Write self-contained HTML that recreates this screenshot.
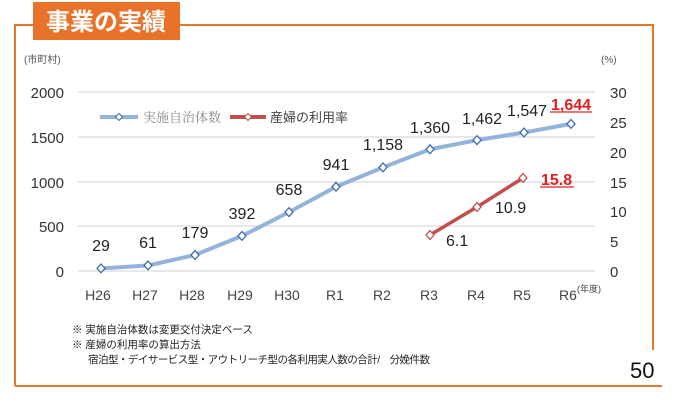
<!DOCTYPE html>
<html><head><meta charset="utf-8"><style>
body{margin:0;background:#fff;width:680px;height:413px;overflow:hidden}
svg{display:block;font-family:"Liberation Sans","Noto Sans CJK JP",sans-serif}
</style></head><body>
<svg width="680" height="413" viewBox="0 0 680 413">
<path d="M15,386 L15,25 L653,25 L653,350" fill="none" stroke="#e8772e" stroke-width="2"/>
<path d="M15,386 L662,386" stroke="#e8772e" stroke-width="2"/>
<rect x="33" y="2" width="147" height="38" fill="#e8722a"/>
<text x="106" y="30" text-anchor="middle" font-size="24" font-weight="bold" fill="#fff">事業の実績</text>
<text x="24" y="63" font-size="10" fill="#555">(市町村)</text>
<text x="601" y="63" font-size="10" fill="#555">(%)</text>
<g stroke="#d9d9d9" stroke-width="1.3">
<line x1="78" y1="92" x2="595" y2="92"/><line x1="78" y1="137" x2="595" y2="137"/>
<line x1="78" y1="182" x2="595" y2="182"/><line x1="78" y1="226" x2="595" y2="226"/>
<line x1="78" y1="271" x2="595" y2="271"/></g>
<g font-size="15" fill="#333" text-anchor="end">
<text x="64" y="98">2000</text><text x="64" y="143">1500</text><text x="64" y="188">1000</text><text x="64" y="232">500</text><text x="64" y="277">0</text></g>
<g font-size="15" fill="#333">
<text x="610" y="98">30</text><text x="610" y="128">25</text><text x="610" y="158">20</text><text x="610" y="188">15</text><text x="610" y="217">10</text><text x="610" y="247">5</text><text x="610" y="277">0</text></g>
<g font-size="14" fill="#444" text-anchor="middle">
<text x="98" y="300">H26</text><text x="145" y="300">H27</text><text x="192" y="300">H28</text><text x="240" y="300">H29</text><text x="287" y="300">H30</text><text x="335" y="300">R1</text><text x="382" y="300">R2</text><text x="429" y="300">R3</text><text x="476" y="300">R4</text><text x="522" y="300">R5</text><text x="568" y="300">R6</text></g>
<text x="577" y="292" font-size="9" fill="#444">(年度)</text>
<polyline fill="none" stroke="#93b3da" stroke-width="4" points="101,268.4 148,265.5 195,255 242,235.9 289,212.1 336,186.8 383,167.4 430,149.3 477,140.1 524,132.5 571,123.9"/>
<g fill="#fff" stroke="#3a6cb0" stroke-width="1.3">
<path d="M101,264 l4,4.4 -4,4.4 -4,-4.4z"/><path d="M148,261 l4,4.4 -4,4.4 -4,-4.4z"/><path d="M195,250.6 l4,4.4 -4,4.4 -4,-4.4z"/><path d="M242,231.5 l4,4.4 -4,4.4 -4,-4.4z"/><path d="M289,207.7 l4,4.4 -4,4.4 -4,-4.4z"/><path d="M336,182.4 l4,4.4 -4,4.4 -4,-4.4z"/><path d="M383,163 l4,4.4 -4,4.4 -4,-4.4z"/><path d="M430,144.9 l4,4.4 -4,4.4 -4,-4.4z"/><path d="M477,135.7 l4,4.4 -4,4.4 -4,-4.4z"/><path d="M524,128.1 l4,4.4 -4,4.4 -4,-4.4z"/><path d="M571,119.5 l4,4.4 -4,4.4 -4,-4.4z"/></g>
<polyline fill="none" stroke="#c0504d" stroke-width="3.5" points="430,235 477,207 523,178"/>
<g fill="#fff" stroke="#c0504d" stroke-width="1.3">
<path d="M430,230.6 l4,4.4 -4,4.4 -4,-4.4z"/><path d="M477,202.6 l4,4.4 -4,4.4 -4,-4.4z"/><path d="M523,173.6 l4,4.4 -4,4.4 -4,-4.4z"/></g>
<g font-size="16" fill="#222" text-anchor="middle">
<text x="101" y="251">29</text><text x="148" y="248">61</text><text x="195" y="238">179</text><text x="242" y="219">392</text><text x="289" y="195">658</text><text x="336" y="170">941</text><text x="383" y="150">1,158</text><text x="430" y="133">1,360</text><text x="482" y="124">1,462</text><text x="527" y="116">1,547</text></g>
<text x="571" y="110" text-anchor="middle" font-size="16" font-weight="bold" fill="#e02020">1,644</text>
<line x1="550" y1="112" x2="592" y2="112" stroke="#e02020" stroke-width="1.3"/>
<text x="541" y="185" font-size="16" font-weight="bold" fill="#e02020">15.8</text>
<line x1="540" y1="187" x2="574" y2="187" stroke="#e02020" stroke-width="1.3"/>
<text x="495" y="213" font-size="16" fill="#222">10.9</text>
<text x="446" y="246" font-size="16" fill="#222">6.1</text>
<line x1="100" y1="117" x2="138" y2="117" stroke="#93b3da" stroke-width="4"/>
<path d="M119,113.5 l3.5,3.5 -3.5,3.5 -3.5,-3.5z" fill="#fff" stroke="#3a6cb0"/>
<text x="143" y="122" font-size="13" fill="#888" font-family="Liberation Serif,Noto Serif CJK SC,serif">実施自治体数</text>
<line x1="230" y1="117" x2="266" y2="117" stroke="#c0504d" stroke-width="4"/>
<path d="M248,113.5 l3.5,3.5 -3.5,3.5 -3.5,-3.5z" fill="#fff" stroke="#c0504d"/>
<text x="270" y="122" font-size="13" fill="#444">産婦の利用率</text>
<g font-size="10.5" fill="#222">
<text x="72" y="333">※ 実施自治体数は変更交付決定ベース</text>
<text x="72" y="348">※ 産婦の利用率の算出方法</text>
<text x="88" y="363" textLength="342">宿泊型・デイサービス型・アウトリーチ型の各利用実人数の合計/　分娩件数</text></g>
<text x="630" y="378" font-size="22" fill="#111">50</text>
</svg>
</body></html>
